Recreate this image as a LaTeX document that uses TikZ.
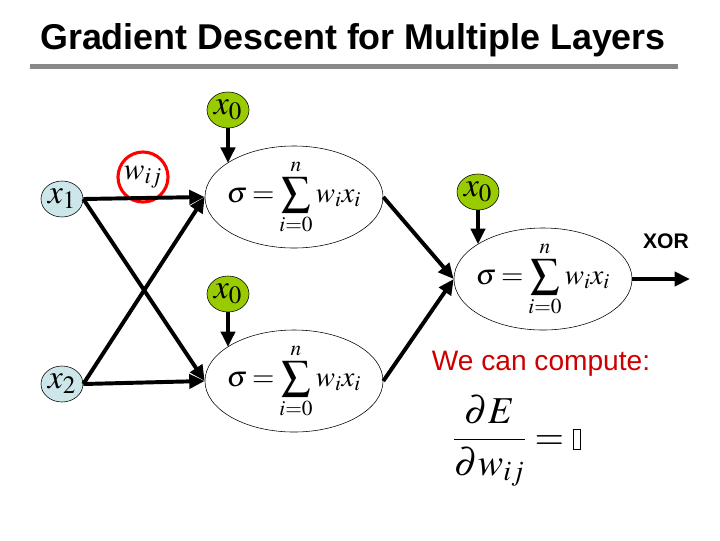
\documentclass[tikz,border=0pt]{standalone}
\usepackage{mathptmx}
\usepackage{amsmath}
\usepackage{fontspec}
\newfontfamily\arial{Liberation Sans}
\usepackage{tikz}
\usetikzlibrary{arrows.meta, positioning, shapes.geometric}
\definecolor{inputcolor}{RGB}{204, 230, 234}
\definecolor{biascolor}{RGB}{153, 204, 0}
\definecolor{barcolor}{RGB}{136, 136, 136}
\definecolor{notecolor}{RGB}{204, 0, 0}
\newcommand{\sigsum}{$\thickmuskip=3mu\displaystyle\sigma = \sum_{i=0}^{n} w_i x_i$}
\newcommand{\emptybox}{\vcenter{\hbox{\setlength\fboxsep{0pt}\setlength\fboxrule{0.8pt}\fbox{\rule{0pt}{0.48cm}\hspace{0.16cm}}}}}

\begin{document}
\begin{tikzpicture}[
    x=0.025cm, y=-0.025cm,
    neuron/.style={draw, thin, ellipse, minimum width=4.45cm, minimum height=2.55cm,
                   inner xsep=-14pt, inner ysep=-6pt, font=\fontsize{20.5}{24}\selectfont},
    inp/.style={draw, thin, ellipse, fill=inputcolor, minimum width=1.05cm,
                minimum height=0.9cm, inner sep=-3pt, font=\fontsize{24}{28}\selectfont},
    bias/.style={inp, fill=biascolor},
    arr/.style={-{Triangle[length=11pt, width=10pt]}, line width=2.8pt}
]
\useasboundingbox (0,0) rectangle (720,540);
% Title
\node[font=\arial\bfseries\fontsize{25.5}{30}\selectfont] (title) at (353,40) {Gradient Descent for Multiple Layers};
\fill[barcolor] (30,64) rectangle (678,69);
% Neurons
\node[neuron] (h1) at (294,197) {\sigsum};
\node[neuron] (h2) at (294,381) {\sigsum};
\node[neuron] (out) at (543,279) {\sigsum};
% Inputs and biases
\node[inp] (x1) at (62,199) {$x_1$};
\node[inp] (x2) at (62,384) {$x_2$};
\node[bias] (b1) at (228,110) {$x_0$};
\node[bias] (b2) at (228,294) {$x_0$};
\node[bias] (b3) at (478,192) {$x_0$};
% Weight marker
\node[draw=red, circle, line width=2.2pt, minimum size=1.25cm, inner sep=-4pt,
      font=\fontsize{22}{26}\selectfont] (w) at (143,177) {$w_{ij}$};
% Input arrows
\foreach \s in {x1,x2}
    \foreach \t in {h1,h2}
        \draw[arr] (\s.east) -- (\t.west);
% Bias arrows
\draw[arr] (b1.south) -- (b1.south |- h1.153);
\draw[arr] (b2.south) -- (b2.south |- h2.153);
\draw[arr] (b3.south) -- (b3.south |- out.152);
% Hidden to output
\draw[arr] (h1.east) -- (out.west);
\draw[arr] (h2.east) -- (out.west);
% Output
\coordinate (end) at (690,279);
\draw[arr] (out.east) -- (end);
\node[font=\arial\bfseries\fontsize{15}{18}\selectfont] (xor) at (666,241) {XOR};
% Note
\node[font=\arial\fontsize{20}{24}\selectfont, text=notecolor] (note) at (541,364) {We can compute:};
\node[font=\fontsize{27}{31}\selectfont] (grad) at (517,441)
    {$\dfrac{\partial E}{\partial w_{ij}} = \emptybox$};
\end{tikzpicture}
\end{document}
